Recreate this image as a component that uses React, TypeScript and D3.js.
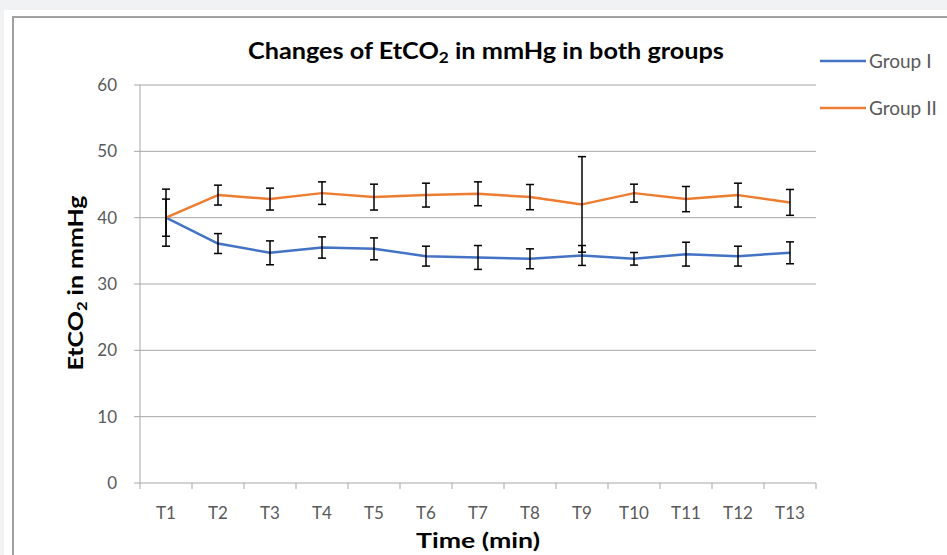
import React from "react";
import * as d3 from "d3";

const categories = ["T1", "T2", "T3", "T4", "T5", "T6", "T7", "T8", "T9", "T10", "T11", "T12", "T13"];
const groupI = [40.0, 36.1, 34.7, 35.5, 35.3, 34.2, 34.0, 33.8, 34.3, 33.8, 34.5, 34.2, 34.7];
const groupIErr = [2.8, 1.5, 1.8, 1.6, 1.65, 1.5, 1.8, 1.5, 1.5, 0.95, 1.8, 1.5, 1.65];
const groupII = [40.0, 43.4, 42.8, 43.7, 43.1, 43.4, 43.6, 43.1, 42.0, 43.7, 42.8, 43.4, 42.3];
const groupIIErr = [4.3, 1.5, 1.65, 1.7, 1.95, 1.8, 1.8, 1.9, 7.2, 1.35, 1.9, 1.8, 1.95];
const yTicks = [0, 10, 20, 30, 40, 50, 60];
const seriesNames = ["Group I", "Group II"];
const seriesColors = ["#4472C4", "#ED7D31"];

const W = 947;
const H = 555;
const FONT = "Lato, 'Open Sans', sans-serif";

export default function App() {
  const x = d3.scaleBand<string>().domain(categories).range([140, 816]).padding(0);
  const y = d3.scaleLinear().domain([0, 60]).range([483, 85]);
  const cx = (c: string) => (x(c) as number) + x.bandwidth() / 2;

  const line = d3
    .line<number>()
    .x((_, i) => cx(categories[i]))
    .y((d) => y(d));

  const series = [
    { name: seriesNames[0], values: groupI, err: groupIErr, color: seriesColors[0] },
    { name: seriesNames[1], values: groupII, err: groupIIErr, color: seriesColors[1] },
  ];

  const boundaries = categories.map((c) => x(c) as number).concat([x.range()[1]]);
  const axisGray = "#a6a6a6";
  const labelGray = "#595959";
  const cap = 4;

  return (
    <div style={{ position: "fixed", left: 0, top: 0 }}>
      <svg width={W} height={H} style={{ display: "block" }} fontFamily={FONT}>
        <rect x={0} y={0} width={W} height={H} fill="#f1f2f4" />
        <rect x={4} y={10} width={W} height={H} fill="#ffffff" />
        <rect x={13} y={17} width={W + 20} height={H + 20} fill="none" stroke="#a0a0a0" strokeWidth={2} />

        {/* gridlines */}
        {yTicks.filter((t) => t > 0).map((t) => (
          <line key={t} x1={140} x2={816} y1={y(t)} y2={y(t)} stroke={axisGray} strokeWidth={1} />
        ))}

        {/* y axis */}
        <line x1={140} x2={140} y1={y(60)} y2={y(0)} stroke={axisGray} strokeWidth={1} />
        {yTicks.map((t) => (
          <g key={t}>
            <line x1={134} x2={140} y1={y(t)} y2={y(t)} stroke={axisGray} />
            <text x={117} y={y(t)} dy="0.36em" textAnchor="end" fontSize={17} fill={labelGray}>
              {t}
            </text>
          </g>
        ))}

        {/* x axis */}
        <line x1={140} x2={816} y1={y(0)} y2={y(0)} stroke={axisGray} strokeWidth={1} />
        {boundaries.map((b, i) => (
          <line key={i} x1={b} x2={b} y1={y(0)} y2={y(0) + 6} stroke={axisGray} />
        ))}
        {categories.map((c) => (
          <text key={c} x={cx(c)} y={519} textAnchor="middle" fontSize={17} fill={labelGray}>
            {c}
          </text>
        ))}

        {/* lines */}
        {series.map((s) => (
          <path key={s.name} d={line(s.values) || ""} fill="none" stroke={s.color} strokeWidth={2.5} strokeLinejoin="round" />
        ))}

        {/* error bars */}
        {series.map((s) =>
          s.values.map((v, i) => {
            const px = cx(categories[i]);
            const top = y(v + s.err[i]);
            const bot = y(v - s.err[i]);
            return (
              <g key={s.name + i} stroke="#000" strokeWidth={1.5}>
                <line x1={px} x2={px} y1={top} y2={bot} />
                <line x1={px - cap} x2={px + cap} y1={top} y2={top} />
                <line x1={px - cap} x2={px + cap} y1={bot} y2={bot} />
              </g>
            );
          })
        )}

        {/* title */}
        <text x={486} y={59} textAnchor="middle" fontSize={22} fontWeight="bold" fill="#000" textLength={476} lengthAdjust="spacingAndGlyphs">
          Changes of EtCO
          <tspan fontSize={15} dy={4}>2</tspan>
          <tspan dy={-4}> in mmHg in both groups</tspan>
        </text>

        {/* axis titles */}
        <text x={478} y={548} textAnchor="middle" fontSize={21} fontWeight="bold" fill="#000" textLength={124} lengthAdjust="spacingAndGlyphs">
          Time (min)
        </text>
        <text transform="translate(83,283) rotate(-90)" textAnchor="middle" fontSize={21} fontWeight="bold" fill="#000" textLength={175} lengthAdjust="spacingAndGlyphs">
          EtCO
          <tspan fontSize={14} dy={4}>2</tspan>
          <tspan dy={-4}> in mmHg</tspan>
        </text>

        {/* legend */}
        {series.map((s, i) => {
          const ly = 61 + i * 47;
          return (
            <g key={s.name}>
              <line x1={820} x2={866} y1={ly} y2={ly} stroke={s.color} strokeWidth={2.5} />
              <text x={869} y={ly} dy="0.36em" fontSize={19} fill={labelGray}>
                {s.name}
              </text>
            </g>
          );
        })}
      </svg>
    </div>
  );
}
